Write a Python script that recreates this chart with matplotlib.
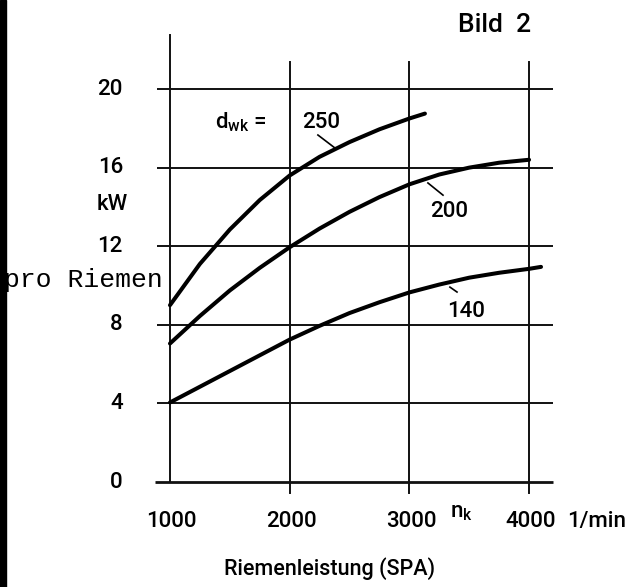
import matplotlib
matplotlib.use("Agg")
import matplotlib.pyplot as plt
from matplotlib.patches import Rectangle

plt.rcParams['font.family'] = ['Roboto', 'DejaVu Sans']
plt.rcParams['font.weight'] = 'medium'
plt.rcParams['mathtext.default'] = 'regular'

# data (rpm -> kW per belt)
n_250 = [1000, 1250, 1500, 1750, 2000, 2250, 2500, 2750, 3000, 3130]
p_250 = [9.0, 11.1, 12.85, 14.35, 15.6, 16.55, 17.3, 17.95, 18.5, 18.75]

n_200 = [1000, 1250, 1500, 1750, 2000, 2250, 2500, 2750, 3000, 3250, 3500, 3750, 4000]
p_200 = [7.05, 8.45, 9.75, 10.9, 11.95, 12.9, 13.75, 14.5, 15.15, 15.65, 16.0, 16.25, 16.4]

n_140 = [1000, 1250, 1500, 1750, 2000, 2250, 2500, 2750, 3000, 3250, 3500, 3750, 4000, 4100]
p_140 = [4.05, 4.85, 5.65, 6.45, 7.25, 7.95, 8.6, 9.15, 9.65, 10.05, 10.4, 10.65, 10.85, 10.95]

x_ticks = [1000, 2000, 3000, 4000]
y_ticks = [0, 4, 8, 12, 16, 20]
y_labels = ['0', '4', '8', '12', '16', '20']

fig = plt.figure(figsize=(6.35, 5.87), dpi=100)
ax = fig.add_axes([0, 0, 1, 1])
ax.set_xlim(-420, 4885)
ax.set_ylim(-5.34, 24.53)
ax.axis('off')

# grid drawn by hand like the original sketch
for y in y_ticks:
    lw = 2.0 if y == 0 else 1.4
    x0 = 875 if y == 0 else 891
    ax.plot([x0, 4200], [y, y], color='#111111', lw=lw, solid_capstyle='butt')
ax.plot([1000, 1000], [0, 22.75], color='#111111', lw=1.4)
for x in x_ticks[1:]:
    ax.plot([x, x], [-0.56, 21.4], color='#111111', lw=1.4)

# curves
for n, p in [(n_250, p_250), (n_200, p_200), (n_140, p_140)]:
    ax.plot(n, p, color='black', lw=2.9, solid_capstyle='round', solid_joinstyle='round')

# curve labels with leader lines
ax.text(1376, 18.0, 'd$_{wk}$ =', fontsize=16, va='baseline', ha='left')
ax.text(2103, 18.0, '250', fontsize=16, va='baseline', ha='left')
ax.plot([2236, 2378], [17.66, 17.0], color='black', lw=1.2)
ax.text(3172, 13.49, '200', fontsize=16, va='baseline', ha='left')
ax.plot([3155, 3281], [15.22, 14.6], color='black', lw=1.2)
ax.text(3314, 8.4, '140', fontsize=16, va='baseline', ha='left')
ax.plot([3339, 3398], [9.92, 9.67], color='black', lw=1.2)

# axis labels
for y, lab in zip(y_ticks, y_labels):
    ax.text(607, y, lab, fontsize=16, ha='right', va='center')
for x in x_ticks:
    ax.text(x + 15, -2.29, str(x), fontsize=16, ha='center', va='baseline')
ax.text(390, 14.1, 'kW', fontsize=16, ha='left', va='center')
ax.text(941, 10.28, 'pro Riemen', fontsize=19, ha='right', va='center',
        family='Liberation Mono', weight='normal')
ax.text(3339, -1.78, 'n$_k$', fontsize=16, ha='left', va='baseline')
ax.text(4317, -2.29, '1/min', fontsize=16, ha='left', va='baseline')
ax.text(2337, -4.38, 'Riemenleistung (SPA)', fontsize=15.5, ha='center', va='center')
ax.text(3406, 23.26, 'Bild  2', fontsize=19, ha='left', va='center')

# dark scan edge on the left
fig.patches.append(Rectangle((0, 0), 6 / 635, 1, transform=fig.transFigure,
                             color='black', zorder=5))

fig.savefig('out.png', dpi=100)
